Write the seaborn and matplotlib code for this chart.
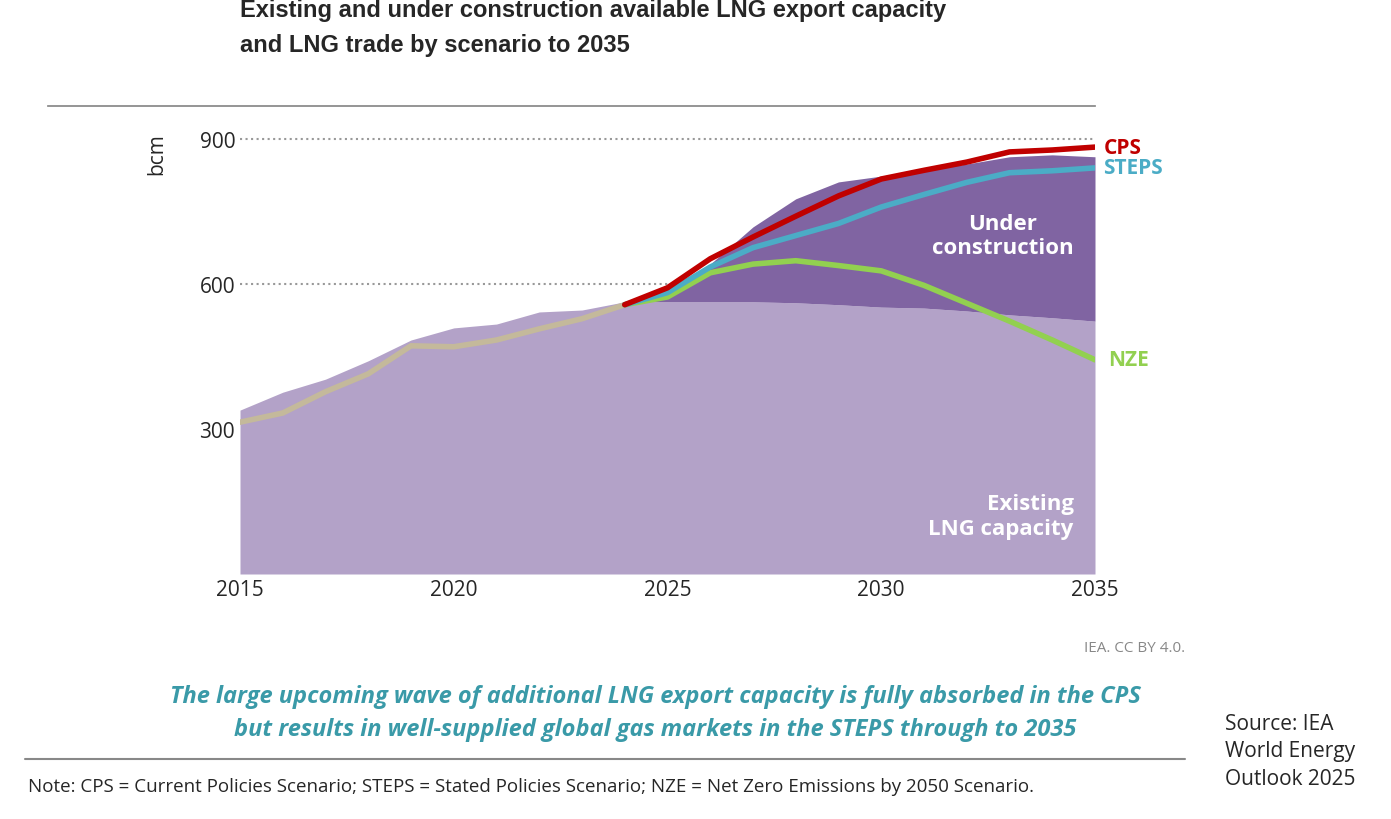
import matplotlib
matplotlib.use("Agg")
import matplotlib.pyplot as plt
import seaborn as sns
import numpy as np

sns.set_theme(style="white")
plt.rcParams['font.family'] = ['Open Sans', 'DejaVu Sans']

years = list(range(2015, 2036))
existing = [339, 376, 403, 441, 484, 509, 517, 542, 546, 563, 563, 563, 563, 561, 557, 552, 550, 544, 536, 530, 523]
total_cap = [339, 376, 403, 441, 484, 509, 517, 542, 546, 563, 577, 641, 718, 776, 811, 823, 836, 848, 863, 867, 863]
hist_years = list(range(2015, 2025))
hist = [314, 333, 377, 414, 472, 470, 484, 507, 528, 557]
proj_years = list(range(2024, 2036))
cps = [557, 592, 652, 697, 740, 782, 817, 835, 852, 873, 877, 883]
steps = [557, 582, 635, 675, 700, 725, 759, 785, 810, 830, 834, 840]
nze = [557, 573, 623, 641, 648, 638, 627, 597, 560, 523, 484, 443]

fig = plt.figure(figsize=(13.91, 8.2), dpi=100)
ax = fig.add_axes([240/1391, 245/820, 855/1391, 468/820])
ax.fill_between(years, 0, existing, color="#b3a2c8", lw=0)
ax.fill_between(years, existing, total_cap, color="#8064a2", lw=0)
for v in [600, 900]:
    ax.plot([2015, 2035], [v, v], ls=":", color="#999999", lw=1.5, zorder=0.5)
sns.lineplot(x=hist_years, y=hist, ax=ax, color="#c4b99b", lw=4)
sns.lineplot(x=proj_years, y=nze, ax=ax, color="#92d050", lw=4)
sns.lineplot(x=proj_years, y=steps, ax=ax, color="#4bacc6", lw=4)
sns.lineplot(x=proj_years, y=cps, ax=ax, color="#c00000", lw=4)
ax.set_xlim(2015, 2035)
ax.set_ylim(0, 968)
ax.set_xticks([2015, 2020, 2025, 2030, 2035])
ax.set_yticks([300, 600, 900])
ax.tick_params(labelsize=15, length=0)
for s in ["left", "right", "bottom"]:
    ax.spines[s].set_visible(False)
ax.spines["top"].set_color("#888888")
ax.spines["top"].set_bounds(2010.5, 2035)
ax.text(-0.11, 0.9, "bcm", transform=ax.transAxes, rotation=90, fontsize=15, va="center")
ax.text(2035.2, 883, "CPS", color="#c00000", fontsize=15, fontweight="bold", va="center")
ax.text(2035.2, 840, "STEPS", color="#4bacc6", fontsize=15, fontweight="bold", va="center")
ax.text(2035.3, 443, "NZE", color="#92d050", fontsize=15, fontweight="bold", va="center")
ax.text(2034.5, 700, "Under\nconstruction", color="white", fontsize=16, fontweight="bold", ha="right", va="center", multialignment="center")
ax.text(2034.5, 120, "Existing\nLNG capacity", color="white", fontsize=16, fontweight="bold", ha="right", va="center", multialignment="right")
ax.grid(False)

fig.text(240/1391, 1-28/820, "Existing and under construction available LNG export capacity\nand LNG trade by scenario to 2035",
         fontsize=17, fontweight="bold", va="center", linespacing=1.7, family=["Liberation Sans", "DejaVu Sans"])
fig.text(1185/1391, 1-648/820, "IEA. CC BY 4.0.", fontsize=11, color="#888888", ha="right", va="center")
fig.text(655/1391, 1-714/820, "The large upcoming wave of additional LNG export capacity is fully absorbed in the CPS\nbut results in well-supplied global gas markets in the STEPS through to 2035",
         fontsize=17, fontweight="bold", style="italic", color="#3a9aa8", ha="center", va="center", linespacing=1.5)
fig.add_artist(plt.Line2D([25/1391, 1185/1391], [1-760/820, 1-760/820], color="#888888", lw=1.5))
fig.text(28/1391, 1-787/820, "Note: CPS = Current Policies Scenario; STEPS = Stated Policies Scenario; NZE = Net Zero Emissions by 2050 Scenario.",
         fontsize=13.5, va="center")
fig.text(1225/1391, 1-752/820, "Source: IEA\nWorld Energy\nOutlook 2025", fontsize=15, va="center", linespacing=1.4)
fig.savefig("out.png", dpi=100)
